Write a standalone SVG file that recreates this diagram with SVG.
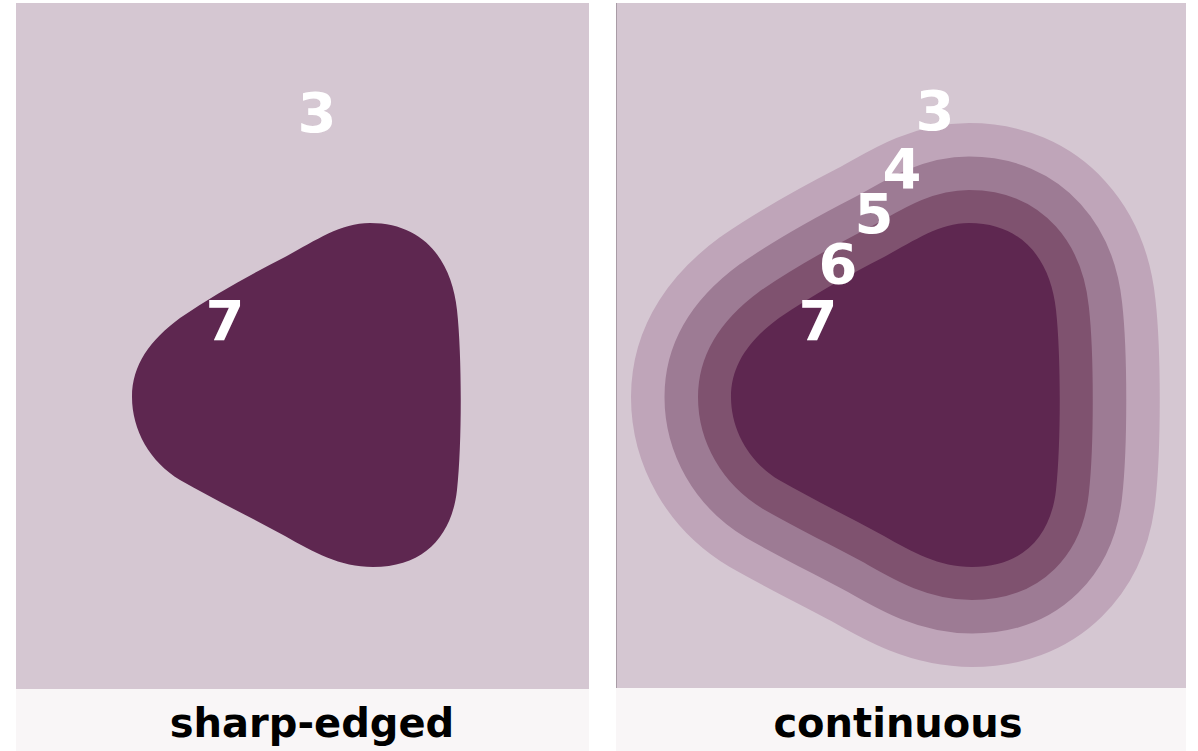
<svg xmlns="http://www.w3.org/2000/svg" xmlns:xlink="http://www.w3.org/1999/xlink" width="1198" height="751" viewBox="0 0 1198 751">
<style>
.bg{fill:#d5c7d2}
.band{fill:#f9f6f7}
.dark{fill:#5e2750}
.num{font-family:"DejaVu Sans",sans-serif;font-weight:bold;font-size:56px;fill:#ffffff;text-anchor:middle}
.lbl{font-family:"DejaVu Sans",sans-serif;font-weight:bold;font-size:40px;fill:#000000;text-anchor:middle}
</style>
<defs>
<path id="blob" d="M 370,223 C 425,223 452,262 457,310 C 462,355 462,445 457,490 C 452,535 425,567 373,567 C 340,567 313,552 285,536 C 250,517 215,500 180,480 C 150,462 132,430 132,397 C 132,365 150,340 180,318 C 215,294 250,275 285,257 C 315,241 340,223 370,223 Z"/>
</defs>
<rect width="1198" height="751" fill="#ffffff"/>
<g id="panel-sharp">
<rect class="bg" x="16" y="3" width="573" height="686"/>
<rect class="band" x="16" y="689" width="573" height="62"/>
<use xlink:href="#blob" class="dark"/>
<text class="num" x="317" y="132">3</text>
<text class="num" x="225" y="340">7</text>
<text class="lbl" x="312" y="737">sharp-edged</text>
</g>
<g id="panel-continuous">
<rect class="bg" x="616" y="3" width="570" height="685"/>
<line x1="616.5" y1="3" x2="616.5" y2="688" stroke="#a99ca6" stroke-width="1"/>
<rect class="band" x="616" y="688" width="570" height="63"/>
<g transform="translate(599,0)">
<use xlink:href="#blob" fill="#bfa5b9" stroke="#bfa5b9" stroke-width="200" stroke-linejoin="round"/>
<use xlink:href="#blob" fill="#9d7b94" stroke="#9d7b94" stroke-width="133" stroke-linejoin="round"/>
<use xlink:href="#blob" fill="#7f526f" stroke="#7f526f" stroke-width="66" stroke-linejoin="round"/>
<use xlink:href="#blob" class="dark"/>
</g>
<text class="num" x="935" y="130">3</text>
<text class="num" x="902" y="188">4</text>
<text class="num" x="874" y="233">5</text>
<text class="num" x="838" y="283">6</text>
<text class="num" x="818" y="340">7</text>
<text class="lbl" x="898" y="737">continuous</text>
</g>
</svg>
